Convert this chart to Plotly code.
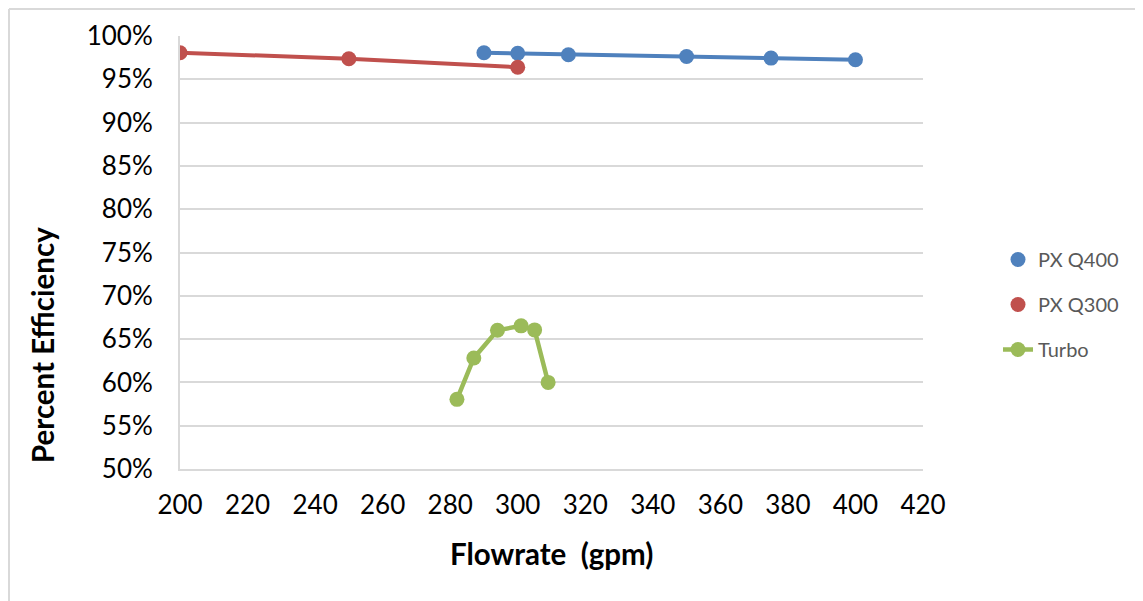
import plotly.graph_objects as go

# Data
q400_flow = [290, 300, 315, 350, 375, 400]
q400_eff = [0.9807, 0.9800, 0.9783, 0.9764, 0.9745, 0.9725]
q300_flow = [200, 250, 300]
q300_eff = [0.9807, 0.9737, 0.9640]
turbo_flow = [282, 287, 294, 301, 305, 309]
turbo_eff = [0.5804, 0.6282, 0.6602, 0.6653, 0.6606, 0.6000]
x_ticks = [200, 220, 240, 260, 280, 300, 320, 340, 360, 380, 400, 420]
y_ticks = [0.50, 0.55, 0.60, 0.65, 0.70, 0.75, 0.80, 0.85, 0.90, 0.95, 1.00]

BLUE = "#4F81BD"
RED = "#C0504D"
GREEN = "#9BBB59"
FONT = "Lato"

OFF = 8  # page body margin
W, H = 1143 - OFF, 601 - OFF
L, T = 180 - OFF, 36 - OFF
R = W - (923 - OFF)
B = H - (469 - OFF)
pw, ph = W - L - R, H - T - B

def px_x(p):  # p: screenshot pixel
    return (p - OFF - L) / pw

def px_y(p):
    return (H - B - (p - OFF)) / ph

fig = go.Figure()

fig.add_trace(go.Scatter(x=q400_flow, y=q400_eff, mode="lines",
                         line=dict(color=BLUE, width=4), showlegend=False, hoverinfo="skip"))
fig.add_trace(go.Scatter(x=q300_flow, y=q300_eff, mode="lines",
                         line=dict(color=RED, width=4), showlegend=False, hoverinfo="skip"))

fig.add_trace(go.Scatter(x=q400_flow, y=q400_eff, mode="markers", name="PX Q400",
                         marker=dict(color=BLUE, size=15), legendgroup="a"))
fig.add_trace(go.Scatter(x=q300_flow, y=q300_eff, mode="markers", name="PX Q300",
                         marker=dict(color=RED, size=15), legendgroup="b"))
fig.add_trace(go.Scatter(x=turbo_flow, y=turbo_eff, mode="lines+markers", name="Turbo",
                         line=dict(color=GREEN, width=4.5),
                         marker=dict(color=GREEN, size=15), legendgroup="c"))

fig.update_layout(
    width=W, height=H,
    margin=dict(l=L, r=R, t=T, b=B),
    paper_bgcolor="white", plot_bgcolor="white",
    font=dict(family=FONT, size=26, color="black"),
    showlegend=True,
    legend=dict(x=px_x(998), y=px_y(240), xanchor="left", yanchor="top",
                font=dict(family=FONT, size=20, color="#595959"),
                traceorder="grouped", tracegroupgap=16,
                bgcolor="rgba(0,0,0,0)"),
    xaxis=dict(range=[200, 420], tickvals=x_ticks, ticktext=[str(v) for v in x_ticks],
               showgrid=False, zeroline=False, showline=True, linecolor="#D9D9D9", linewidth=2,
               ticks="", ticklabelstandoff=12, tickfont=dict(size=26, color="black")),
    yaxis=dict(range=[0.5, 1.0], tickvals=y_ticks, tickformat=".0%",
               showgrid=True, gridcolor="#D9D9D9", gridwidth=2,
               zeroline=False, showline=True, linecolor="#D9D9D9", linewidth=2,
               ticks="", ticklabelstandoff=20, tickfont=dict(size=26, color="black")),
    annotations=[
        dict(text="<b>Percent Efficiency</b>", x=px_x(42), y=px_y(345), xref="paper", yref="paper",
             textangle=-90, showarrow=False, font=dict(family=FONT, size=29.5, color="black"),
             xanchor="center", yanchor="middle"),
        dict(text="<b>Flowrate  (gpm)</b>", x=px_x(551), y=px_y(553), xref="paper", yref="paper",
             showarrow=False, font=dict(family=FONT, size=29.5, color="black"),
             xanchor="center", yanchor="middle"),
    ],
    shapes=[
        dict(type="line", xref="paper", yref="paper",
             x0=px_x(OFF + 1), x1=px_x(OFF + 1), y0=px_y(601), y1=px_y(OFF + 1),
             line=dict(color="#D9D9D9", width=2), layer="below"),
        dict(type="line", xref="paper", yref="paper",
             x0=px_x(OFF + 1), x1=px_x(1143), y0=px_y(OFF + 1), y1=px_y(OFF + 1),
             line=dict(color="#D9D9D9", width=2), layer="below"),
    ],
)

fig.write_html("out.html")
